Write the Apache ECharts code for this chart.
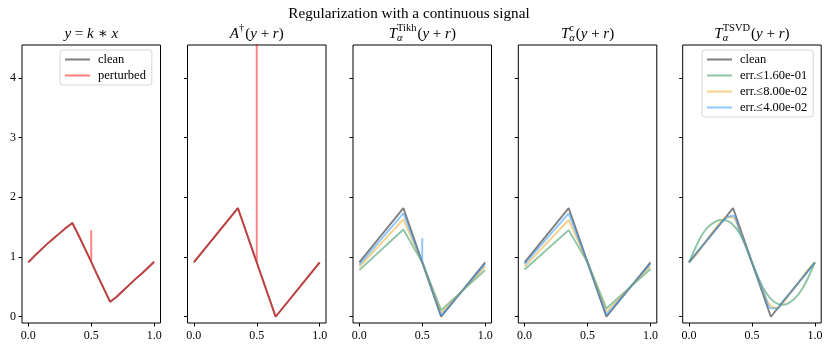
<!DOCTYPE html>
<html>
<head>
<meta charset="utf-8">
<script src="https://cdn.jsdelivr.net/npm/echarts@6/dist/echarts.min.js"></script>
<style>
  html, body { margin: 0; padding: 0; background: #fff; }
  #main { width: 831px; height: 350px; }
</style>
</head>
<body>
<div id="main"></div>
<script>
// clean signal (piecewise linear knots)
const knotX = [0, 0.35, 0.5, 0.65, 1];
const cleanY = [0.91, 1.82, 0.91, 0, 0.91];

// blurred data y = k*x
const blurX = [0, 0.05, 0.1, 0.15, 0.2, 0.25, 0.3, 0.35, 0.4, 0.45, 0.5, 0.55, 0.6, 0.65, 0.7, 0.75, 0.8, 0.85, 0.9, 0.95, 1];
const blurY = [0.91, 1.02, 1.12, 1.22, 1.31, 1.40, 1.49, 1.57, 1.36, 1.14, 0.92, 0.69, 0.47, 0.25, 0.33, 0.43, 0.53, 0.63, 0.72, 0.82, 0.92];

// spikes at x = 0.5 (bottom, top)
const spikeX = 0.5;
const blurSpike = [0.92, 1.45];
const naiveSpike = [0.91, 30];
const tikhBlueSpike = [0.93, 1.32];

// Tikhonov reconstructions at knotX
const tikhGreen = [0.78, 1.46, 0.91, 0.11, 0.78];
const tikhOrange = [0.83, 1.63, 0.91, 0.06, 0.84];
const tikhBlue = [0.87, 1.73, 0.91, 0.02, 0.88];

// T^c reconstructions at knotX
const cGreen = [0.79, 1.45, 0.91, 0.14, 0.80];
const cOrange = [0.84, 1.62, 0.91, 0.08, 0.85];
const cBlue = [0.88, 1.73, 0.91, 0.03, 0.89];

// TSVD reconstructions
const tsvdX = [0, 0.05, 0.1, 0.15, 0.2, 0.25, 0.3, 0.35, 0.4, 0.45, 0.5, 0.55, 0.6, 0.65, 0.7, 0.75, 0.8, 0.85, 0.9, 0.95, 1];
const tsvdGreen = [0.91, 1.15, 1.36, 1.50, 1.58, 1.62, 1.61, 1.54, 1.40, 1.18, 0.91, 0.66, 0.44, 0.30, 0.22, 0.20, 0.24, 0.33, 0.47, 0.67, 0.91];
const tsvdOrange = [0.91, 1.02, 1.16, 1.31, 1.45, 1.58, 1.67, 1.66, 1.46, 1.19, 0.91, 0.63, 0.36, 0.18, 0.15, 0.24, 0.38, 0.52, 0.66, 0.80, 0.91];
const tsvdBlue = [0.91, 1.04, 1.17, 1.30, 1.43, 1.56, 1.66, 1.69, 1.45, 1.19, 0.91, 0.63, 0.37, 0.14, 0.14, 0.27, 0.39, 0.52, 0.65, 0.78, 0.91];

const xTicks = [0, 0.5, 1];
const yTicks = [0, 1, 2, 3, 4];
const panelTitles = [
  [{t: 'y', it: true}, {t: ' = '}, {t: 'k', it: true}, {t: ' \u2217 '}, {t: 'x', it: true}],
  [{t: 'A', it: true}, {sup: '\u2020'}, {t: '('}, {t: 'y', it: true}, {t: ' + '}, {t: 'r', it: true}, {t: ')'}],
  [{t: 'T', it: true}, {sub: '\u03b1', sup: 'Tikh'}, {t: '('}, {t: 'y', it: true}, {t: ' + '}, {t: 'r', it: true}, {t: ')'}],
  [{t: 'T', it: true}, {sub: '\u03b1', sup: 'c'}, {t: '('}, {t: 'y', it: true}, {t: ' + '}, {t: 'r', it: true}, {t: ')'}],
  [{t: 'T', it: true}, {sub: '\u03b1', sup: 'TSVD'}, {t: '('}, {t: 'y', it: true}, {t: ' + '}, {t: 'r', it: true}, {t: ')'}]
];

const FONT = '"Liberation Serif", "DejaVu Serif", serif';
const CLEAN = 'rgba(0,0,0,0.5)';
const RED = 'rgba(255,0,0,0.5)';
const GREEN = 'rgba(46,150,90,0.55)';
const ORANGE = 'rgba(240,170,40,0.55)';
const BLUE = 'rgba(30,144,255,0.5)';

const zip = (xs, ys) => xs.map((x, i) => [x, ys[i]]);
const withSpike = (pts, sx, sp) => {
  const out = [];
  pts.forEach(p => {
    out.push(p);
    if (p[0] === sx) { out.push([sx, sp[0]], [sx, sp[1]], [sx, sp[0]], [sx, p[1]]); }
  });
  return out;
};

const gridLefts = [22, 187.5, 353, 518.3, 682.7];
const gridW = 138.5, gridTop = 45, gridH = 278;

const chart = echarts.init(document.getElementById('main'));

const grids = gridLefts.map(l => ({
  left: l, top: gridTop, width: gridW, height: gridH,
  show: true, borderColor: '#000', borderWidth: 1, backgroundColor: '#fff'
}));
const xAxes = gridLefts.map((l, i) => ({
  type: 'value', gridIndex: i, min: -0.05, max: 1.05,
  splitLine: {show: false}, axisLine: {show: false, onZero: false},
  axisTick: {show: true, length: 3.5, lineStyle: {color: '#000'}, customValues: xTicks},
  axisLabel: {show: true, customValues: xTicks, formatter: v => v.toFixed(1),
    fontFamily: FONT, fontSize: 12, color: '#000', margin: 7}
}));
const yAxes = gridLefts.map((l, i) => ({
  type: 'value', gridIndex: i, min: -0.105, max: 4.55,
  splitLine: {show: false}, axisLine: {show: false, onZero: false},
  axisTick: {show: true, length: 3.5, lineStyle: {color: '#000'}, customValues: yTicks},
  axisLabel: {show: i === 0, customValues: yTicks,
    fontFamily: FONT, fontSize: 12, color: '#000', margin: 6}
}));

function line(name, i, data, color, smooth) {
  return {
    name, type: 'line', xAxisIndex: i, yAxisIndex: i, data,
    showSymbol: false, symbol: 'none', smooth: smooth || false, clip: true,
    lineStyle: {color, width: 1.9}, itemStyle: {color},
    emphasis: {disabled: true}, animation: false
  };
}

const cleanPts = zip(knotX, cleanY);
const series = [
  line('clean', 0, zip(blurX, blurY), CLEAN),
  line('perturbed', 0, withSpike(zip(blurX, blurY), spikeX, blurSpike), RED),
  line('clean', 1, cleanPts, CLEAN),
  line('perturbed', 1, withSpike(cleanPts, spikeX, naiveSpike), RED),
  line('clean', 2, cleanPts, CLEAN),
  line('err.\u22641.60e-01', 2, zip(knotX, tikhGreen), GREEN),
  line('err.\u22648.00e-02', 2, zip(knotX, tikhOrange), ORANGE),
  line('err.\u22644.00e-02', 2, withSpike(zip(knotX, tikhBlue), spikeX, tikhBlueSpike), BLUE),
  line('clean', 3, cleanPts, CLEAN),
  line('err.\u22641.60e-01', 3, zip(knotX, cGreen), GREEN),
  line('err.\u22648.00e-02', 3, zip(knotX, cOrange), ORANGE),
  line('err.\u22644.00e-02', 3, zip(knotX, cBlue), BLUE),
  line('clean', 4, cleanPts, CLEAN),
  line('err.\u22641.60e-01', 4, zip(tsvdX, tsvdGreen), GREEN, 0.35),
  line('err.\u22648.00e-02', 4, zip(tsvdX, tsvdOrange), ORANGE, 0.35),
  line('err.\u22644.00e-02', 4, zip(tsvdX, tsvdBlue), BLUE, 0.35)
];

const legendBase = {
  orient: 'vertical', icon: 'rect', itemWidth: 25, itemHeight: 2, itemGap: 3,
  backgroundColor: 'rgba(255,255,255,0.8)', borderColor: '#d5d5d5', borderWidth: 1, borderRadius: 3,
  padding: [3, 6, 3, 5], selectedMode: false,
  textStyle: {fontFamily: FONT, fontSize: 12.5, color: '#000', padding: [0, 0, 0, 3]}
};

// titles built from measured text pieces
const ctx = document.createElement('canvas').getContext('2d');
const measure = (t, it, size) => { ctx.font = (it ? 'italic ' : '') + size + 'px ' + FONT; return ctx.measureText(t).width; };
const BASE = 15, SMALL = 10.5;
function mathTitle(cx, cy, parts) {
  const items = [];
  let x = 0;
  parts.forEach(p => {
    if (p.t !== undefined) {
      items.push({text: p.t, x, dy: 0, size: BASE, it: !!p.it});
      x += measure(p.t, p.it, BASE);
    } else {
      let w = 0;
      if (p.sub) { items.push({text: p.sub, x, dy: 4.5, size: SMALL, it: true}); w = Math.max(w, measure(p.sub, true, SMALL)); }
      if (p.sup) { items.push({text: p.sup, x, dy: -5.5, size: SMALL, it: false}); w = Math.max(w, measure(p.sup, false, SMALL)); }
      x += w + 1;
    }
  });
  return items.map(it => ({
    type: 'text', x: cx - x / 2 + it.x, y: cy + it.dy, silent: true,
    style: {text: it.text, fill: '#000', font: (it.it ? 'italic ' : '') + it.size + 'px ' + FONT,
      textAlign: 'left', textVerticalAlign: 'middle', align: 'left', verticalAlign: 'middle'}
  }));
}

let graphics = [{
  type: 'text', x: 409, y: 14, silent: true,
  style: {text: 'Regularization with a continuous signal', fill: '#000', font: '15.2px ' + FONT,
    textAlign: 'center', textVerticalAlign: 'middle', align: 'center', verticalAlign: 'middle'}
}];
panelTitles.forEach((p, i) => { graphics = graphics.concat(mathTitle(gridLefts[i] + gridW / 2, 34, p)); });

chart.setOption({
  animation: false,
  grid: grids,
  xAxis: xAxes,
  yAxis: yAxes,
  legend: [
    Object.assign({}, legendBase, {left: 60, top: 50, data: ['clean', 'perturbed']}),
    Object.assign({}, legendBase, {left: 702, top: 50,
      data: ['clean', 'err.\u22641.60e-01', 'err.\u22648.00e-02', 'err.\u22644.00e-02']})
  ],
  graphic: graphics,
  series
});
</script>
</body>
</html>
